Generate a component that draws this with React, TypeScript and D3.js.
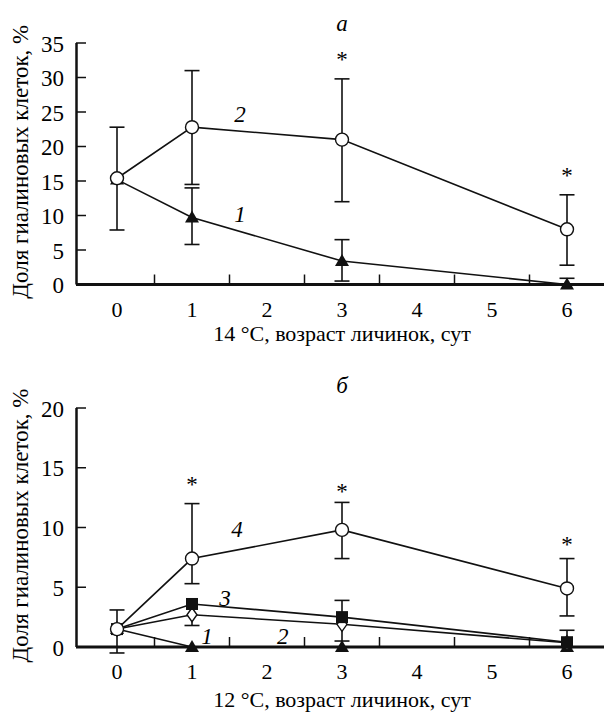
import React from "react";
import * as d3 from "d3";

// sampling days (x) and axis tick labels
const days = [0, 1, 3, 6];
const xLabels = [0, 1, 2, 3, 4, 5, 6];
const xTicks = [0.5, 1.5, 2.5, 3.5, 4.5, 5.5];

// panel a, 14 °C
const aTicks = [0, 5, 10, 15, 20, 25, 30, 35];
const a1 = [15.2, 9.7, 3.4, 0];
const a1Up = [null, 14, 6.5, 0.9];
const a1Down = [null, 5.8, 0.5, null];
const a2 = [15.4, 22.8, 21.0, 8.0];
const a2Up = [22.8, 31.0, 29.8, 13.0];
const a2Down = [7.9, 14.5, 12.0, 2.8];
const aStars = [[3, 32.6], [6, 15.8]];
const aNames = [["2", 1.64, 24.6], ["1", 1.64, 10.1]];

// panel б, 12 °C
const bTicks = [0, 5, 10, 15, 20];
const b1 = [1.5, 0, 0, 0];
const b2 = [1.5, 2.7, 1.9, 0.35];
const b2Down = [null, 1.8, 0.5, null];
const b3 = [1.5, 3.6, 2.5, 0.4];
const b3Up = [null, null, 3.9, 1.4];
const b4 = [1.5, 7.4, 9.8, 4.9];
const b4Up = [3.1, 12.0, 12.1, 7.4];
const b4Down = [-0.5, 5.3, 7.4, 2.6];
const bStars = [[1, 13.6], [3, 13.0], [6, 8.6]];
const bNames = [["4", 1.6, 9.8], ["3", 1.44, 4.1], ["1", 1.2, 0.85], ["2", 2.21, 0.85]];

const FONT = "Liberation Serif";
const INK = "#111";

type Series = {
  vals: number[];
  up?: (number | null)[];
  down?: (number | null)[];
  marker: string;
};

type PanelProps = {
  title: string;
  titleY: number;
  ymax: number;
  y0: number;
  y1: number;
  yTicks: number[];
  xTitle: string;
  xTitleY: number;
  stars: number[][];
  names: any[][];
  series: Series[];
};

const x = d3.scaleLinear().domain([0, 6]).range([117, 567]);

// text centred on (px, py); the baseline is shifted by hand
function Label({ px, py, size, italic, anchor, transform, children }: any) {
  return (
    <text
      x={px}
      y={py + size * 0.33}
      transform={transform}
      textAnchor={anchor || "middle"}
      fontFamily={FONT}
      fontSize={size}
      fontStyle={italic ? "italic" : undefined}
      style={{ fontFamily: FONT }}
    >
      {children}
    </text>
  );
}

function Marker({ kind, cx, cy }: { kind: string; cx: number; cy: number }) {
  if (kind === "circle") {
    return <circle cx={cx} cy={cy} r={6.5} fill="#fff" stroke={INK} strokeWidth={1.4} />;
  }
  if (kind === "triangle") {
    return <path d={`M${cx},${cy - 7}L${cx + 7},${cy + 5}L${cx - 7},${cy + 5}Z`} fill={INK} />;
  }
  if (kind === "square") {
    return <rect x={cx - 6} y={cy - 6} width={12} height={12} fill={INK} />;
  }
  return (
    <path
      d={`M${cx},${cy - 7}L${cx + 5},${cy}L${cx},${cy + 7}L${cx - 5},${cy}Z`}
      fill="#fff"
      stroke={INK}
      strokeWidth={1.4}
    />
  );
}

function Panel(p: PanelProps) {
  const y = d3.scaleLinear().domain([0, p.ymax]).range([p.y0, p.y1]);
  const lineFunc = d3.line<number>()
    .x((d, i) => x(days[i]))
    .y((d) => y(d));
  const midY = (y(0) + y(p.ymax)) / 2 - 2;

  const bars: any[] = [];
  p.series.forEach((s, si) => {
    [s.up, s.down].forEach((ends, k) => {
      if (!ends) return;
      ends.forEach((e, i) => {
        if (e === null || e === undefined) return;
        const cx = x(days[i]);
        bars.push(
          <g key={`${si}-${k}-${i}`} stroke={INK} strokeWidth={1.6}>
            <line x1={cx} x2={cx} y1={y(s.vals[i])} y2={y(e)} />
            <line x1={cx - 7.5} x2={cx + 7.5} y1={y(e)} y2={y(e)} />
          </g>
        );
      });
    });
  });

  return (
    <g>
      <Label px={x(3)} py={p.titleY} size={23} italic>{p.title}</Label>

      {/* y axis */}
      <line x1={76.5} x2={76.5} y1={y(p.ymax)} y2={y(0)} stroke={INK} strokeWidth={2.5} />
      {p.yTicks.map((t) => (
        <g key={t}>
          <line x1={76} x2={86} y1={y(t)} y2={y(t)} stroke={INK} strokeWidth={1.5} />
          <Label px={64} py={y(t) + 1} size={23} anchor="end">{t}</Label>
        </g>
      ))}
      <Label px={0} py={0} size={23} transform={`translate(20,${midY}) rotate(-90)`}>
        Доля гиалиновых клеток, %
      </Label>

      {/* x axis */}
      <line x1={76} x2={604} y1={y(0)} y2={y(0)} stroke={INK} strokeWidth={3} />
      {xTicks.map((t) => (
        <line key={t} x1={x(t)} x2={x(t)} y1={y(0)} y2={y(0) - 10} stroke={INK} strokeWidth={1.5} />
      ))}
      {xLabels.map((t) => (
        <Label key={t} px={x(t)} py={y(0) + 25} size={22}>{t}</Label>
      ))}
      <Label px={x(3)} py={p.xTitleY} size={22}>{p.xTitle}</Label>

      {/* lines, error bars, markers */}
      {p.series.map((s, i) => (
        <path key={i} d={lineFunc(s.vals) || ""} fill="none" stroke={INK} strokeWidth={1.6} />
      ))}
      {bars}
      {p.series.map((s, si) =>
        s.vals.map((v, i) => <Marker key={`${si}-${i}`} kind={s.marker} cx={x(days[i])} cy={y(v)} />)
      )}

      {p.stars.map((s, i) => (
        <Label key={i} px={x(s[0])} py={y(s[1])} size={23}>*</Label>
      ))}
      {p.names.map((n, i) => (
        <Label key={i} px={x(n[1])} py={y(n[2])} size={23} italic>{n[0]}</Label>
      ))}
    </g>
  );
}

export default function App() {
  return (
    <svg width={604} height={713} style={{ position: "absolute", left: 0, top: 0, background: "#fff" }}>
      <Panel
        title="а"
        titleY={23}
        ymax={35}
        y0={284.5}
        y1={43}
        yTicks={aTicks}
        xTitle="14 °C, возраст личинок, сут"
        xTitleY={334}
        stars={aStars}
        names={aNames}
        series={[
          { vals: a1, up: a1Up, down: a1Down, marker: "triangle" },
          { vals: a2, up: a2Up, down: a2Down, marker: "circle" },
        ]}
      />
      <Panel
        title="б"
        titleY={385}
        ymax={20}
        y0={647}
        y1={408}
        yTicks={bTicks}
        xTitle="12 °C, возраст личинок, сут"
        xTitleY={700}
        stars={bStars}
        names={bNames}
        series={[
          { vals: b1, marker: "triangle" },
          { vals: b2, down: b2Down, marker: "diamond" },
          { vals: b3, up: b3Up, marker: "square" },
          { vals: b4, up: b4Up, down: b4Down, marker: "circle" },
        ]}
      />
    </svg>
  );
}
